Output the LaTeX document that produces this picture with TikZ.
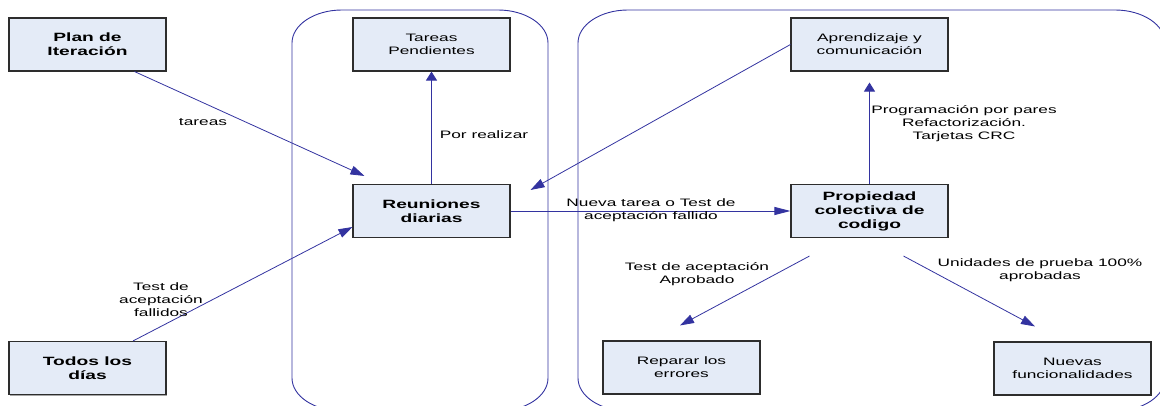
\documentclass[tikz,border=0pt]{standalone}
\usepackage{fontspec}
\setmainfont{Liberation Sans}[FakeStretch=1.6]
\usetikzlibrary{arrows.meta,shadows}
\definecolor{flow}{RGB}{51,51,160}
\definecolor{boxfill}{RGB}{228,235,247}
\definecolor{boxline}{RGB}{45,45,45}
% lane outline with elliptical corners: #1=left, #2=top, #3=right, #4=bottom
\newcommand{\lanepath}[4]{%
  (#1,#2+33) arc[start angle=180, end angle=270, x radius=50, y radius=33]
  -- (#3-50,#2) arc[start angle=270, end angle=360, x radius=50, y radius=33]
  -- (#3,#4-33) arc[start angle=0, end angle=90, x radius=50, y radius=33]
  -- (#1+50,#4) arc[start angle=90, end angle=180, x radius=50, y radius=33]
  -- cycle}
\begin{document}
\begin{tikzpicture}[x=1pt,y=-1pt,
  box/.style={draw=boxline, line width=1.1pt, fill=boxfill,
    minimum width=157pt, minimum height=53pt, align=center, inner sep=2pt,
    drop shadow={shadow xshift=1pt, shadow yshift=-1pt, fill=gray!70, opacity=1},
    font=\fontsize{10.8}{13}\selectfont},
  keybox/.style={box, font=\fontsize{12}{14}\selectfont\bfseries},
  flowline/.style={draw=flow, line width=0.8pt},
  flowarrow/.style={flowline, -{Triangle[length=14pt,width=9pt]}},
  harrow/.style={flowline, -{Triangle[length=16pt,width=8pt]}},
  varrow/.style={flowline, -{Triangle[length=9pt,width=11pt]}},
  lane/.style={draw=flow, line width=0.9pt},
  lbl/.style={align=center, inner sep=0pt, font=\fontsize{10.8}{13}\selectfont}]

\useasboundingbox (0,0) rectangle (1160,406);

% swim lanes, cut off by the page edge
\begin{scope}
  \clip (0,0) rectangle (1160,406);
  \draw[lane] \lanepath{292}{10}{548}{411};
  \draw[lane] \lanepath{578}{10}{1165}{411};
\end{scope}

% boxes
\node[keybox] (plan)    at (87.5,44.5)   {Plan de\\Iteración};
\node[box]    (tareas)  at (431.5,44.5)  {Tareas\\Pendientes};
\node[box]    (aprend)  at (869.5,44.5)  {Aprendizaje y\\comunicación};
\node[keybox] (reun)    at (431.5,211)   {Reuniones\\diarias};
\node[keybox] (prop)    at (869.5,211)   {Propiedad\\colectiva de\\codigo};
\node[keybox] (todos)   at (87.5,368)    {Todos los\\días};
\node[box]    (reparar) at (681.5,367.5) {Reparar los\\errores};
\node[box]    (nuevas)  at (1072.5,368.5){Nuevas\\funcionalidades};

% connectors
\draw[flowarrow] ([xshift=47pt]plan.south) -- ([xshift=12pt,yshift=8pt]reun.north west);
\draw[flowarrow] ([xshift=45.5pt]todos.north) -- ([yshift=-16pt]reun.west);
\draw[varrow] (reun.north) -- (tareas.south);
\draw[flowarrow] (aprend.west) -- ([xshift=20pt,yshift=-6pt]reun.north east);
\draw[harrow] (reun.east) -- (prop.west);
\draw[varrow] (prop.north) -- ([yshift=-11pt]aprend.south);
\draw[flowarrow] ([xshift=19pt,yshift=-18pt]prop.south west) -- ([xshift=-1.5pt,yshift=15pt]reparar.north);
\draw[flowarrow] ([xshift=-45pt,yshift=-18pt]prop.south east) -- ([xshift=-37.5pt,yshift=15pt]nuevas.north);

% connector labels
\node[lbl] (l1) at (203,122)   {tareas};
\node[lbl] (l2) at (161,300)   {Test de\\aceptación\\fallidos};
\node[lbl] (l3) at (484,135)   {Por realizar};
\node[lbl] (l4) at (651,210.5) {Nueva tarea o Test de\\aceptación fallido};
\node[lbl] (l5) at (964,124)   {Programación por pares\\Refactorización.\\Tarjetas CRC};
\node[lbl] (l6) at (697,274)   {Test de aceptación\\Aprobado};
\node[lbl] (l7) at (1040,270)  {Unidades de prueba 100\%\\aprobadas};
\end{tikzpicture}
\end{document}
